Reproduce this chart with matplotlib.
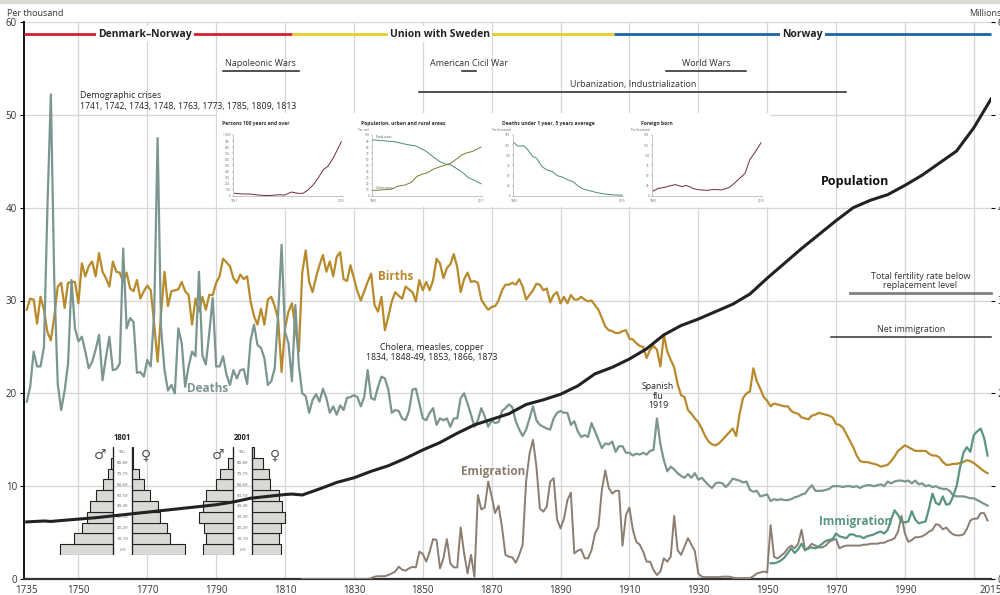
import numpy as np
import matplotlib.pyplot as plt
from matplotlib.lines import Line2D
from matplotlib.patches import Rectangle

plt.rcParams['font.family'] = ['Open Sans', 'DejaVu Sans']

# ---- main series, per thousand (one value per year from 1735) ----
births = [
    29.0, 30.2, 30.1, 27.5, 30.4, 29.0, 26.6, 25.7, 28.3, 31.5,
    31.9, 29.2, 31.9, 32.0, 32.0, 29.7, 34.0, 32.6, 33.7, 34.2,
    32.6, 35.1, 33.1, 32.4, 31.5, 34.2, 33.1, 33.0, 32.0, 33.0,
    31.3, 31.0, 32.2, 30.2, 31.0, 31.6, 31.1, 27.5, 23.4, 28.6,
    33.1, 29.4, 31.0, 31.1, 31.2, 32.0, 31.0, 30.6, 27.4, 30.2,
    28.8, 30.4, 29.0, 30.6, 30.6, 31.9, 32.6, 34.5, 34.1, 33.7,
    32.4, 31.9, 32.8, 32.3, 32.6, 29.9, 28.3, 27.4, 29.1, 27.4,
    30.1, 30.4, 29.4, 28.0, 22.3, 27.0, 28.8, 29.7, 27.0, 24.5,
    33.0, 35.4, 32.0, 30.9, 32.5, 33.8, 34.9, 33.1, 34.2, 32.6,
    34.7, 35.2, 32.3, 32.1, 33.8, 32.4, 31.0, 30.0, 31.0, 32.0,
    32.9, 29.5, 28.8, 30.4, 26.8, 28.3, 29.9, 30.9, 30.5, 30.2,
    31.5, 31.2, 30.9, 29.9, 32.2, 31.1, 32.0, 31.1, 32.2, 34.5,
    34.0, 32.4, 33.5, 33.9, 35.0, 33.6, 30.9, 32.3, 33.0, 32.0,
    32.1, 31.9, 30.1, 29.5, 29.0, 29.3, 29.4, 30.0, 31.1, 31.7,
    31.7, 31.9, 31.7, 32.3, 31.5, 30.1, 30.6, 31.1, 31.8, 31.7,
    31.1, 31.3, 29.8, 30.6, 30.9, 29.7, 30.4, 29.7, 30.6, 30.1,
    30.1, 30.4, 30.1, 29.9, 30.0, 29.5, 29.0, 28.1, 27.2, 26.8,
    26.7, 26.5, 26.5, 26.7, 26.8, 25.9, 25.8, 25.4, 25.1, 25.0,
    23.8, 24.7, 25.1, 24.7, 22.9, 26.3, 24.5, 23.6, 22.8, 21.0,
    19.8, 19.6, 18.2, 17.8, 17.3, 16.9, 16.2, 15.4, 14.8, 14.5,
    14.4, 14.6, 15.0, 15.4, 15.8, 16.2, 15.4, 17.8, 19.5, 20.0,
    20.2, 22.7, 21.3, 20.5, 19.6, 19.2, 18.6, 18.9, 18.8, 18.7,
    18.6, 18.6, 18.1, 17.9, 17.8, 17.4, 17.3, 17.2, 17.6, 17.7,
    17.9, 17.8, 17.7, 17.6, 17.4, 16.7, 16.6, 16.3, 15.6, 14.9,
    14.2, 13.3, 12.7, 12.6, 12.6, 12.5, 12.4, 12.3, 12.1, 12.2,
    12.3, 12.7, 13.2, 13.8, 14.1, 14.4, 14.2, 14.0, 13.8, 13.8,
    13.8, 13.8, 13.5, 13.3, 13.3, 13.1, 12.6, 12.3, 12.3, 12.4,
    12.4, 12.5, 12.6, 12.8, 12.7, 12.5, 12.2, 11.9, 11.6, 11.4,
]
deaths = [
    19.1, 20.7, 24.5, 22.9, 22.9, 25.0, 40.0, 52.2, 32.0, 21.0,
    18.2, 20.3, 23.2, 32.2, 27.0, 25.6, 26.1, 24.5, 22.7, 23.4,
    24.7, 26.3, 21.4, 23.9, 26.1, 22.5, 22.6, 23.2, 35.6, 27.0,
    28.1, 27.7, 22.2, 22.3, 21.8, 23.6, 22.9, 28.6, 47.5, 27.0,
    22.5, 20.3, 20.9, 20.0, 27.0, 25.4, 20.7, 22.9, 24.5, 24.0,
    33.1, 24.1, 23.1, 26.5, 30.3, 22.9, 22.9, 24.0, 22.0, 20.9,
    22.5, 21.6, 22.5, 22.6, 21.0, 25.7, 27.4, 25.2, 24.9, 23.8,
    20.9, 21.3, 22.7, 28.6, 36.0, 26.6, 25.4, 21.3, 29.5, 23.0,
    20.0, 19.7, 17.9, 19.3, 19.9, 19.1, 20.5, 19.5, 17.9, 18.6,
    17.7, 18.7, 18.2, 19.5, 19.6, 19.8, 19.6, 18.6, 19.6, 22.5,
    19.5, 19.3, 20.7, 21.8, 21.6, 20.4, 17.9, 18.2, 18.1, 17.3,
    17.1, 18.1, 20.4, 20.5, 18.9, 17.3, 17.1, 17.9, 18.4, 16.6,
    17.3, 17.1, 17.3, 16.4, 17.3, 17.3, 19.5, 20.0, 18.9, 17.7,
    16.4, 17.1, 18.4, 17.5, 16.4, 17.1, 16.8, 16.9, 18.1, 18.4,
    18.8, 18.5, 17.0, 16.1, 15.4, 16.1, 17.3, 18.6, 17.1, 16.6,
    16.4, 16.2, 16.1, 17.3, 17.9, 18.1, 17.9, 17.9, 16.6, 17.0,
    15.9, 15.3, 15.5, 15.3, 16.8, 15.9, 15.0, 14.1, 14.6, 14.5,
    14.8, 13.7, 14.3, 14.3, 13.6, 13.6, 13.3, 13.5, 13.4, 13.6,
    13.4, 13.8, 13.9, 17.3, 14.5, 12.8, 11.6, 12.1, 11.8, 11.4,
    11.1, 10.9, 11.3, 10.9, 11.4, 10.7, 10.9, 10.5, 10.1, 9.8,
    10.3, 10.4, 10.3, 9.9, 10.3, 10.8, 10.7, 10.6, 10.4, 10.5,
    9.6, 9.4, 9.5, 8.9, 9.0, 9.1, 8.4, 8.6, 8.5, 8.6,
    8.5, 8.5, 8.6, 8.8, 8.9, 9.1, 9.2, 9.7, 10.1, 9.5,
    9.5, 9.5, 9.6, 9.7, 10.0, 10.0, 10.0, 9.9, 10.0, 10.0,
    9.9, 10.0, 9.8, 10.0, 10.1, 10.1, 10.0, 10.1, 10.2, 10.0,
    10.5, 10.3, 10.5, 10.6, 10.6, 10.5, 10.6, 10.3, 10.6, 10.2,
    10.3, 10.0, 10.1, 9.9, 10.0, 9.8, 9.7, 9.7, 9.5, 9.0,
    8.9, 8.9, 8.9, 8.8, 8.7, 8.7, 8.5, 8.3, 8.1, 7.9,
]
years = np.arange(1735, 1735 + len(births))

emigration = [
    0, 0, 0, 0, 0, 0, 0, 0, 0, 0,
    0, 0, 0, 0, 0, 0, 0, 0, 0, 0,
    0.1, 0.25, 0.3, 0.3, 0.3, 0.43, 0.6, 0.8, 1.33, 1.0,
    0.9, 1.15, 1.3, 1.25, 2.95, 2.7, 1.87, 2.95, 4.3, 4.2,
    1.15, 2.23, 4.3, 1.69, 1.25, 1.25, 5.56, 2.76, 0.6, 2.6,
    0.25, 9.05, 7.5, 7.7, 10.5, 8.9, 7.1, 7.9, 5.6, 2.6,
    2.4, 2.33, 1.76, 2.6, 3.7, 10.5, 13.5, 15.0, 12.1, 7.6,
    7.25, 7.8, 10.5, 10.85, 6.4, 5.45, 6.5, 8.5, 9.3, 2.76,
    3.05, 3.2, 2.23, 2.23, 3.1, 4.9, 5.6, 9.6, 11.7, 9.8,
    9.2, 9.5, 9.5, 3.6, 6.9, 7.7, 5.3, 4.0, 3.7, 2.95,
    1.87, 1.87, 0.97, 0.43, 0.8, 2.23, 1.87, 2.4, 6.8, 3.1,
    2.6, 3.5, 4.4, 3.7, 3.0, 0.6, 0.25, 0.2, 0.2, 0.2,
    0.2, 0.2, 0.25, 0.25, 0.25, 0.15, 0.1, 0.1, 0.1, 0.1,
    0.1, 0.3, 0.6, 0.7, 0.8, 0.7, 5.8, 2.4, 2.2, 2.5,
    2.8, 3.3, 3.6, 3.3, 3.8, 5.3, 3.1, 3.4, 3.8, 3.6,
    3.4, 3.4, 3.6, 4.0, 4.2, 4.3, 3.3, 3.5, 3.6, 3.6,
    3.6, 3.6, 3.6, 3.7, 3.7, 3.8, 3.8, 3.8, 3.9, 3.9,
    4.1, 4.2, 4.4, 5.1, 6.8, 4.9, 4.0, 4.2, 4.5, 4.5,
    4.6, 4.8, 5.1, 5.3, 5.9, 5.8, 5.35, 5.55, 5.1, 4.8,
    4.7, 4.7, 4.8, 5.4, 6.3, 6.5, 6.5, 7.1, 7.1, 6.3,
]
emig_years = np.arange(1815, 1815 + len(emigration))

immigration = [
    1.7, 1.7, 1.8, 2.0, 2.3, 2.8, 3.3, 2.8, 3.2,
    3.8, 3.1, 3.3, 3.4, 3.3, 3.5, 3.8, 4.1, 4.2, 4.3,
    4.9, 4.6, 4.5, 4.4, 4.8, 4.8, 4.6, 4.6, 4.4, 4.6,
    4.7, 4.8, 5.0, 5.1, 4.9, 5.3, 6.4, 7.4, 6.9, 6.2,
    6.1, 6.2, 7.3, 6.4, 6.0, 6.1, 6.2, 7.6, 9.2, 8.2,
    8.0, 8.9, 8.0, 8.1, 8.9, 10.0, 12.0, 13.6, 14.2, 13.7,
    15.5, 15.9, 16.2, 15.2, 13.3,
]
immig_years = np.arange(1951, 1951 + len(immigration))

# population, millions (right axis)
pop_years = [1735, 1740, 1742, 1745, 1750, 1755, 1760, 1765, 1770, 1775, 1780,
             1785, 1790, 1795, 1800, 1805, 1810, 1812, 1815, 1820, 1825, 1830,
             1835, 1840, 1845, 1850, 1855, 1860, 1865, 1870, 1875, 1880, 1885,
             1890, 1895, 1900, 1905, 1910, 1915, 1920, 1925, 1930, 1935, 1940,
             1945, 1950, 1955, 1960, 1965, 1970, 1975, 1980, 1985, 1990, 1995,
             2000, 2005, 2010, 2015]
population = [0.615, 0.625, 0.62, 0.63, 0.645, 0.66, 0.68, 0.70, 0.72, 0.74, 0.76,
              0.78, 0.80, 0.83, 0.87, 0.89, 0.91, 0.915, 0.905, 0.97, 1.04, 1.09,
              1.16, 1.22, 1.30, 1.39, 1.47, 1.57, 1.66, 1.72, 1.78, 1.88, 1.93,
              1.99, 2.08, 2.21, 2.28, 2.37, 2.48, 2.63, 2.73, 2.80, 2.88, 2.96,
              3.07, 3.24, 3.40, 3.56, 3.71, 3.86, 4.00, 4.08, 4.14, 4.24, 4.35,
              4.48, 4.61, 4.86, 5.17]

# periods at the top and event markers
regimes = [("Denmark\u2013Norway", 1734.2, 1812, "#d11f30", 1769.4),
           ("Union with Sweden", 1812, 1905.5, "#e8cd2a", 1855.1),
           ("Norway", 1905.5, 2015, "#1a63aa", 1960.2)]
events = [("Napoleonic Wars", 1792, 1814, 54.7, "#222222", 1.1),
          ("American Cicil War", 1861.5, 1865.4, 54.7, "#222222", 1.1),
          ("World Wars", 1920.5, 1944, 54.7, "#222222", 1.1),
          ("Urbanization, Industrialization", 1849, 1973, 52.5, "#222222", 1.1),
          ("Total fertility rate below\nreplacement level", 1974, 2015, 30.8, "#808080", 2.0),
          ("Net immigration", 1968.5, 2015, 26.1, "#333333", 1.1)]

# age pyramids, per cent of population
age_groups = ["0-9", "10-19", "20-29", "30-39", "40-49", "50-59", "60-69", "70-79", "80-89", "90+"]
male_1801 = [12.5, 9.1, 7.3, 6.2, 5.4, 3.9, 2.3, 1.2, 0.5, 0.15]
female_1801 = [12.4, 9.0, 8.3, 6.6, 6.0, 4.3, 2.9, 1.6, 0.4, 0.2]
male_2001 = [7.0, 6.4, 6.8, 7.9, 7.1, 6.3, 3.9, 3.1, 1.3, 0.15]
female_2001 = [6.7, 6.3, 6.7, 7.7, 7.0, 6.3, 4.3, 4.1, 2.7, 0.5]

# small charts
cent_years = [1951, 1956, 1960, 1965, 1969, 1973, 1977, 1981, 1985, 1989,
              1992, 1995, 1998, 2001, 2004, 2007, 2010, 2013, 2015]
centenarians = [44, 33, 33, 16, 8, 10, 20, 16, 65, 44, 44, 98, 180, 290, 425,
                490, 617, 780, 890]
rural_years = [1900, 1922, 1933, 1944, 1955, 1962, 1969, 1975, 1980, 1987, 1991,
               1998, 2004, 2011]
rural = [92, 89, 85, 82, 73, 64, 56, 52, 51, 44, 40, 30, 26, 20]
urban_years = [1900, 1918, 1922, 1925, 1933, 1940, 1945, 1951, 1956, 1962, 1969,
               1975, 1980, 1987, 1991, 1995, 2002, 2011]
urban = [9, 11, 13, 16, 18, 23, 32, 36, 38, 44, 48, 51, 54, 62, 67, 70, 73, 80]
infant_years = [1900, 1904, 1911, 1915, 1920, 1924, 1930, 1935, 1941, 1946, 1952,
                1958, 1963, 1969, 1974, 1982, 1989, 1996, 2004, 2015]
infant = [131, 123, 123, 113, 97, 93, 72, 64, 60, 50, 46, 39, 35, 23, 17, 12, 8,
          5, 3, 2]
foreign_years = [1900, 1906, 1912, 1918, 1924, 1928, 1931, 1935, 1939, 1943, 1950,
                 1958, 1965, 1973, 1981, 1986, 1992, 1998, 2003, 2009, 2015]
foreign = [12, 19, 21, 25, 28, 25, 23, 26, 23, 18, 15, 14, 16, 15, 21, 30, 43,
           56, 89, 109, 131]

c_births = "#b88a2b"
c_deaths = "#7b9591"
c_emig = "#8b7d70"
c_immig = "#5a9580"
c_text = "#333333"

W, H = 1000, 595
fig = plt.figure(figsize=(10, 5.95), dpi=100)


def fbox(left, top, right, bottom):
    return [left / W, 1 - bottom / H, (right - left) / W, (bottom - top) / H]


fig.patches.append(Rectangle((0, 1 - 3 / H), 1, 3 / H, transform=fig.transFigure,
                             color="#dcdcd7", zorder=0))

ax = fig.add_axes(fbox(24, 22, 991, 579))
ax.set_zorder(1)
ax.set_xlim(1734.2, 2015)
ax.set_ylim(0, 60)
for yr in range(1750, 2011, 20):
    ax.axvline(yr, color="#d6d6d6", lw=0.9, zorder=0)
for v in range(10, 61, 10):
    ax.axhline(v, color="#d6d6d6", lw=0.9, zorder=0)

ax.plot(years, births, color=c_births, lw=1.6, zorder=3)
ax.plot(years, deaths, color=c_deaths, lw=1.6, zorder=3)
ax.plot(emig_years, emigration, color=c_emig, lw=1.4, zorder=3)
ax.plot(immig_years, immigration, color=c_immig, lw=1.6, zorder=3)

ax.set_xticks([1735, 1750, 1770, 1790, 1810, 1830, 1850, 1870, 1890, 1910,
               1930, 1950, 1970, 1990, 2015])
ax.set_yticks(range(0, 61, 10))
ax.tick_params(axis="x", length=0, pad=4, labelsize=7, labelcolor=c_text)
ax.tick_params(axis="y", length=3, width=0.8, pad=2, labelsize=7, labelcolor=c_text)
for s in ["top", "right"]:
    ax.spines[s].set_visible(False)
ax.spines["left"].set_linewidth(1.4)
ax.spines["left"].set_color("#111111")
ax.spines["bottom"].set_linewidth(1.6)
ax.spines["bottom"].set_color("#333333")

# regimes header
for name, x0, x1, col, xc in regimes:
    ax.plot([x0, x1], [58.7, 58.7], color=col, lw=2.0, solid_capstyle="butt",
            zorder=4, clip_on=False)
    ax.text(xc, 58.7, name, ha="center", va="center", fontsize=7.5,
            fontweight="bold", color="#222222", zorder=5,
            bbox=dict(facecolor="white", edgecolor="none", pad=1.5))

for label, x0, x1, y, col, lw in events:
    ax.plot([x0, x1], [y, y], color=col, lw=lw, zorder=4, clip_on=False)
    ax.text((x0 + x1) / 2, y + 0.3, label, ha="center", va="bottom",
            fontsize=6.5, color=c_text, linespacing=1.1, zorder=5)

ax.text(1750.5, 51.5, "Demographic crises\n1741, 1742, 1743, 1748, 1763, 1773, 1785, 1809, 1813",
        ha="left", va="center", fontsize=6.3, color="#222222", linespacing=1.25)
ax.text(1852.7, 24.4, "Cholera, measles, copper\n1834, 1848-49, 1853, 1866, 1873",
        ha="center", va="center", fontsize=6.3, color="#222222", linespacing=1.25)
ax.text(1918.3, 19.7, "Spanish\nflu\n1919", ha="center", va="center",
        fontsize=6.3, color="#222222", linespacing=1.1)

ax.text(1842.2, 32.6, "Births", ha="center", va="center", fontsize=8.5,
        fontweight="bold", color=c_births)
ax.text(1787.6, 20.5, "Deaths", ha="center", va="center", fontsize=8.5,
        fontweight="bold", color=c_deaths)
ax.text(1870.4, 11.6, "Emigration", ha="center", va="center", fontsize=8.5,
        fontweight="bold", color=c_emig)
ax.text(1975.8, 6.2, "Immigration", ha="center", va="center", fontsize=8.5,
        fontweight="bold", color=c_immig)

# population on the right axis
ax2 = ax.twinx()
ax2.set_zorder(4)
ax2.patch.set_visible(False)
ax2.set_ylim(0, 6)
ax2.plot(pop_years, population, color="#222222", lw=2.2, zorder=5)
ax2.set_yticks(range(0, 7))
ax2.tick_params(axis="y", length=3, width=0.8, pad=2, labelsize=7, labelcolor=c_text)
for s in ax2.spines.values():
    s.set_visible(False)
ax2.text(1975.5, 4.28, "Population", ha="center", va="center", fontsize=9,
         fontweight="bold", color="#111111")

fig.text(7 / W, 1 - 13 / H, "Per thousand", fontsize=6.5, color=c_text, va="center")
fig.text(969 / W, 1 - 13 / H, "Millions", fontsize=6.5, color=c_text, va="center")

# white panel behind the small charts
bg = fig.add_axes(fbox(217, 113, 770, 207))
bg.set_zorder(2)
bg.set_xticks([])
bg.set_yticks([])
for s in bg.spines.values():
    s.set_visible(False)

small = [
    ("Persons 100 years and over", 222, [(cent_years, centenarians, "#6e2b3b")],
     1000, 100, "", ["1 000"] + [str(v) for v in range(900, -1, -100)], ("1951", "2015")),
    ("Population, urban and rural areas", 361, [(rural_years, rural, "#4e8b78"),
                                                (urban_years, urban, "#7d7b2e")],
     100, 10, "Per cent", None, ("1900", "2011")),
    ("Deaths under 1 year, 5 years average", 502, [(infant_years, infant, "#4f8a79")],
     150, 25, "Per thousand", None, ("1900", "2015")),
    ("Foreign born", 641, [(foreign_years, foreign, "#6e2b3b")],
     150, 25, "Per thousand", None, ("1900", "2015")),
]
for title, tx, lines, ymax, ystep, unit, ylabels, xlabels in small:
    fig.text(tx / W, 1 - 124 / H, title, fontsize=3.6, fontweight="bold",
             color="#333333", va="center")
    a = fig.add_axes(fbox(tx + 11, 135, tx + 121, 196))
    a.set_zorder(3)
    a.patch.set_visible(False)
    for xs, ys, col in lines:
        a.plot(xs, ys, color=col, lw=0.7)
    x0 = min(min(l[0]) for l in lines)
    x1 = max(max(l[0]) for l in lines)
    a.set_xlim(x0 - 1, x1 + 1)
    a.set_ylim(0, ymax)
    a.set_yticks(range(0, ymax + 1, ystep))
    if ylabels is not None:
        a.set_yticklabels(ylabels[::-1])
    a.set_xticks([x0, x1])
    a.set_xticklabels(xlabels)
    a.tick_params(labelsize=2.2, length=1, width=0.3, pad=1, colors="#666666")
    for s in ["top", "right"]:
        a.spines[s].set_visible(False)
    for s in ["left", "bottom"]:
        a.spines[s].set_linewidth(0.4)
        a.spines[s].set_color("#999999")
    if unit:
        a.text(-0.02, 1.07, unit, transform=a.transAxes, fontsize=2.2,
               color="#666666", ha="right")
    if title.startswith("Population"):
        a.text(x0 + 3, 95, "Rural areas", fontsize=2.2, color="#555555")
        a.text(x0 + 3, 12, "Urban areas", fontsize=2.2, color="#555555")

# age pyramids
gap = 2.15
for year_label, cx, males, females, msym, fsym in [
        ("1801", 122.5, male_1801, female_1801, 100, 146),
        ("2001", 242.5, male_2001, female_2001, 218, 275)]:
    p = fig.add_axes(fbox(cx - 64.5, 447, cx + 64.5, 555))
    p.set_zorder(2)
    p.patch.set_visible(False)
    pos = np.arange(len(age_groups))
    p.barh(pos, males, left=-gap - np.array(males), height=1.0,
           color="#d9dad5", edgecolor="#222222", lw=0.8)
    p.barh(pos, females, left=gap, height=1.0,
           color="#d9dad5", edgecolor="#222222", lw=0.8)
    p.axvline(-gap, color="#222222", lw=0.9)
    p.axvline(gap, color="#222222", lw=0.9)
    for i, g in enumerate(age_groups):
        p.text(0, i, g, ha="center", va="center", fontsize=3.2, color="#666666")
    p.set_xlim(-15, 15)
    p.set_ylim(-0.5, 9.5)
    p.axis("off")
    fig.text(cx / W, 1 - 437 / H, year_label, ha="center", va="center",
             fontsize=5.5, fontweight="bold", color="#222222")
    fig.text(msym / W, 1 - 455 / H, "\u2642", ha="center", va="center",
             fontsize=10, color="#555555", family="DejaVu Sans")
    fig.text(fsym / W, 1 - 455 / H, "\u2640", ha="center", va="center",
             fontsize=10, color="#555555", family="DejaVu Sans")

fig.add_artist(Line2D([55 / W, 290 / W], [1 - 557 / H, 1 - 557 / H],
                      color="#cfcfcf", lw=0.9, zorder=1))

fig.savefig("out.png", dpi=100)
